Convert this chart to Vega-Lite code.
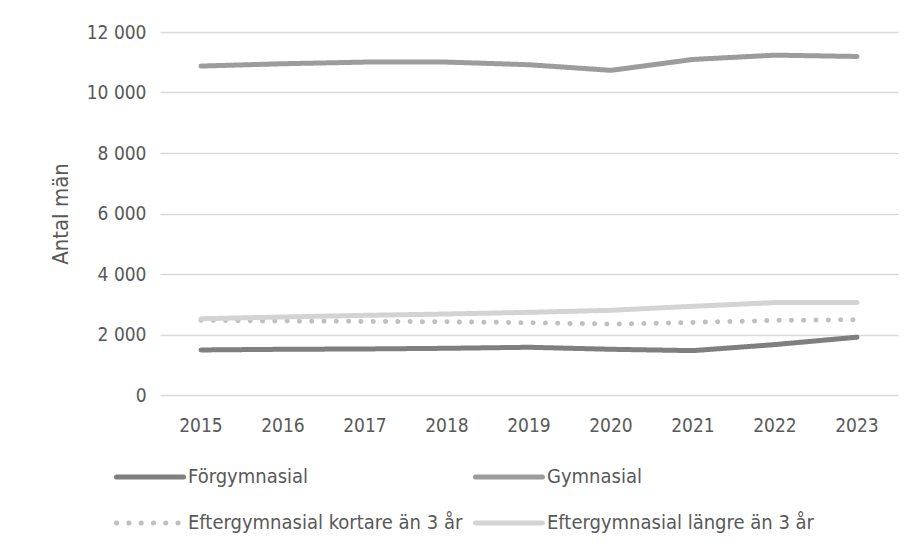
{
  "$schema": "https://vega.github.io/schema/vega-lite/v6.json",
  "width": 738,
  "height": 363,
  "padding": {"left": 49, "top": 23, "right": 5, "bottom": 5},
  "background": "white",
  "config": {
    "view": {"stroke": null},
    "font": "Liberation Sans Narrow, DejaVu Sans Condensed, Liberation Sans",
    "locale": {"number": {"decimal": ",", "thousands": "\u00a0", "grouping": [3], "currency": ["", " kr"]}}
  },
  "data": {
    "values": [
      {"year": "2015", "series": "Förgymnasial", "value": 1489},
      {"year": "2016", "series": "Förgymnasial", "value": 1511},
      {"year": "2017", "series": "Förgymnasial", "value": 1522},
      {"year": "2018", "series": "Förgymnasial", "value": 1544},
      {"year": "2019", "series": "Förgymnasial", "value": 1578},
      {"year": "2020", "series": "Förgymnasial", "value": 1511},
      {"year": "2021", "series": "Förgymnasial", "value": 1467},
      {"year": "2022", "series": "Förgymnasial", "value": 1667},
      {"year": "2023", "series": "Förgymnasial", "value": 1911},
      {"year": "2015", "series": "Gymnasial", "value": 10874},
      {"year": "2016", "series": "Gymnasial", "value": 10951},
      {"year": "2017", "series": "Gymnasial", "value": 11005},
      {"year": "2018", "series": "Gymnasial", "value": 11005},
      {"year": "2019", "series": "Gymnasial", "value": 10918},
      {"year": "2020", "series": "Gymnasial", "value": 10732},
      {"year": "2021", "series": "Gymnasial", "value": 11093},
      {"year": "2022", "series": "Gymnasial", "value": 11235},
      {"year": "2023", "series": "Gymnasial", "value": 11191},
      {"year": "2015", "series": "Eftergymnasial kortare än 3 år", "value": 2467},
      {"year": "2016", "series": "Eftergymnasial kortare än 3 år", "value": 2444},
      {"year": "2017", "series": "Eftergymnasial kortare än 3 år", "value": 2433},
      {"year": "2018", "series": "Eftergymnasial kortare än 3 år", "value": 2422},
      {"year": "2019", "series": "Eftergymnasial kortare än 3 år", "value": 2389},
      {"year": "2020", "series": "Eftergymnasial kortare än 3 år", "value": 2344},
      {"year": "2021", "series": "Eftergymnasial kortare än 3 år", "value": 2400},
      {"year": "2022", "series": "Eftergymnasial kortare än 3 år", "value": 2467},
      {"year": "2023", "series": "Eftergymnasial kortare än 3 år", "value": 2489},
      {"year": "2015", "series": "Eftergymnasial längre än 3 år", "value": 2522},
      {"year": "2016", "series": "Eftergymnasial längre än 3 år", "value": 2578},
      {"year": "2017", "series": "Eftergymnasial längre än 3 år", "value": 2633},
      {"year": "2018", "series": "Eftergymnasial längre än 3 år", "value": 2678},
      {"year": "2019", "series": "Eftergymnasial längre än 3 år", "value": 2733},
      {"year": "2020", "series": "Eftergymnasial längre än 3 år", "value": 2800},
      {"year": "2021", "series": "Eftergymnasial längre än 3 år", "value": 2933},
      {"year": "2022", "series": "Eftergymnasial längre än 3 år", "value": 3056},
      {"year": "2023", "series": "Eftergymnasial längre än 3 år", "value": 3056}
    ]
  },
  "mark": {"type": "line", "strokeWidth": 5, "strokeCap": "round", "strokeJoin": "round"},
  "encoding": {
    "x": {
      "field": "year", "type": "ordinal",
      "scale": {"type": "band", "paddingInner": 0, "paddingOuter": 0},
      "axis": {"title": null, "labelAngle": 0, "ticks": false, "domain": false, "grid": false,
               "labelFontSize": 19, "labelColor": "#595959", "labelPadding": 21}
    },
    "y": {
      "field": "value", "type": "quantitative",
      "scale": {"domain": [0, 12000], "nice": false},
      "axis": {"title": "Antal män", "titleFontSize": 22, "titleFontWeight": "normal", "titleColor": "#595959",
               "titlePadding": 14, "values": [0, 2000, 4000, 6000, 8000, 10000, 12000], "format": ",d",
               "ticks": false, "domain": false, "gridColor": "#d9d9d9", "gridWidth": 1.3,
               "labelFontSize": 19, "labelColor": "#595959", "labelPadding": 14}
    },
    "color": {
      "field": "series", "type": "nominal",
      "scale": {
        "domain": ["Förgymnasial", "Gymnasial", "Eftergymnasial kortare än 3 år", "Eftergymnasial längre än 3 år"],
        "range": ["#7f7f7f", "#9c9c9c", "#bfbfbf", "#d3d3d3"]
      },
      "legend": {
        "title": null, "orient": "none", "legendX": -46, "legendY": 409, "direction": "horizontal", "columns": 2,
        "symbolType": "stroke", "symbolSize": 4489, "symbolStrokeWidth": 5,
        "labelFontSize": 20, "labelColor": "#595959", "labelOffset": 2, "labelLimit": 500,
        "columnPadding": 2, "rowPadding": -7,
        "encoding": {"symbols": {"strokeCap": {"value": "round"}}}
      }
    },
    "strokeDash": {
      "field": "series", "type": "nominal",
      "scale": {
        "domain": ["Förgymnasial", "Gymnasial", "Eftergymnasial kortare än 3 år", "Eftergymnasial längre än 3 år"],
        "range": [[1, 0], [1, 0], [0.1, 12.2], [1, 0]]
      },
      "legend": null
    }
  }
}
